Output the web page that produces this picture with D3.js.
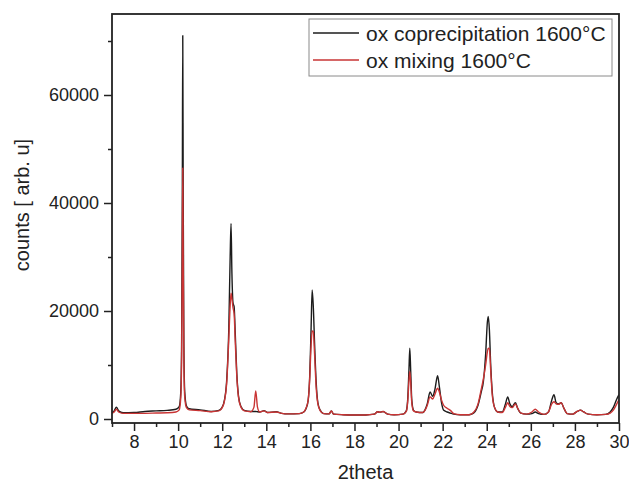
<!DOCTYPE html>
<html>
<head>
<meta charset="utf-8">
<script src="https://cdn.jsdelivr.net/npm/d3@7"></script>
<style>
  html, body { margin: 0; padding: 0; background: #fff; }
  svg { display: block; font-family: "Liberation Sans", Arial, sans-serif; }
</style>
</head>
<body>
<svg id="chart" width="629" height="483"></svg>
<script>
// 2theta sample positions (shared by both patterns)
const twoTheta = [7.0,7.1,7.2,7.3,7.5,8.0,8.5,9.0,9.5,9.9,10.05,10.12,10.16,10.19,10.21,10.23,10.26,10.3,10.38,10.5,
  11.0,11.5,11.85,12.0,12.1,12.2,12.3,12.36,12.4,12.44,12.49,12.54,12.59,12.66,12.74,12.85,13.0,13.3,13.44,13.52,13.6,13.7,
  13.9,14.05,14.45,14.7,15.0,15.5,15.7,15.8,15.9,15.97,16.03,16.08,16.13,16.19,16.26,16.34,16.45,16.6,16.85,16.95,17.05,
  17.5,18.0,18.5,18.9,19.05,19.15,19.3,19.5,19.8,20.2,20.35,20.42,20.47,20.51,20.55,20.6,20.68,20.8,21.1,21.2,21.3,21.43,
  21.55,21.65,21.77,21.85,21.95,22.05,22.2,22.35,22.5,22.8,23.2,23.4,23.6,23.75,23.85,23.95,24.03,24.07,24.12,24.18,24.25,
  24.35,24.5,24.7,24.85,24.95,25.05,25.15,25.3,25.4,25.55,25.8,26.05,26.2,26.35,26.6,26.8,26.95,27.05,27.15,27.25,27.38,
  27.5,27.65,27.9,28.1,28.25,28.4,28.6,29.0,29.4,29.6,29.75,29.9,30.0];

// ox coprecipitation 1600°C (black)
const coprecipitation = [1200,1500,2200,1500,1150,1200,1400,1500,1600,1800,2300,5000,15000,42000,71000,42000,14000,5000,2400,1900,
  1700,1400,1600,2200,3500,7000,17000,30000,36200,27000,21500,20800,16000,8500,4200,2300,1600,1400,1400,1400,1350,1300,
  1550,1200,1350,1050,950,1000,1300,1900,3500,8000,16500,23900,21000,14000,7000,3000,1600,1000,950,1500,900,
  800,750,750,900,1350,1250,1400,900,800,900,1500,4000,9000,13100,9000,3500,1600,1300,1200,1700,2800,5000,
  4200,5500,8000,6000,3000,1600,1300,1100,900,800,800,1100,2500,5000,7000,12000,18000,19000,16500,10000,5000,
  2200,1300,1300,2800,4100,2800,2300,3000,2000,1100,900,1000,1300,1000,850,1300,3500,4500,3000,2800,3000,
  2000,1000,900,1400,1650,1300,900,800,850,1300,2200,3700,4500];

// ox mixing 1600°C (red)
const mixing = [1100,1300,1800,1300,1050,1050,1050,1100,1150,1300,1700,4000,12000,30000,46500,30000,11000,4000,2100,1700,
  1550,1350,1500,2100,3300,6500,15000,21000,23300,22300,20600,19500,14500,8000,4000,2200,1500,1350,2200,5200,2200,1300,
  1500,1200,1300,1050,950,1000,1300,2000,3500,7500,13500,16300,16200,12000,6000,2800,1500,1000,950,1500,900,
  800,750,750,900,1350,1250,1400,900,800,900,1400,3500,7000,8800,6800,3000,1500,1300,1200,1600,2500,4100,
  3700,4600,5700,5000,3500,2500,2000,1600,1000,800,800,1200,2700,5500,7500,10000,12500,13100,13000,9000,4500,
  2200,1300,1200,2200,3000,2300,2100,2800,2000,1100,900,1300,1800,1300,850,1300,2800,3200,2800,2700,3000,
  2000,1000,900,1400,1650,1300,900,800,850,1100,1700,2800,3600];

const seriesNames = ["ox coprecipitation 1600°C", "ox mixing 1600°C"];
const seriesColors = ["#1c1c1c", "#c93434"];
const xMajorTicks = [8,10,12,14,16,18,20,22,24,26,28,30];
const xMinorTicks = [7,9,11,13,15,17,19,21,23,25,27,29];
const yMajorTicks = [0,20000,40000,60000];
const yMinorTicks = [10000,30000,50000,70000];
const xLabel = "2theta";
const yLabel = "counts [ arb. u]";

const W = 629, H = 483;
const margin = {left: 112, top: 14, right: 10, bottom: 60};
const svg = d3.select("#chart");

const x = d3.scaleLinear().domain([7, 30]).range([margin.left, W - margin.right]);
const y = d3.scaleLinear().domain([-740, 75000]).range([H - margin.bottom, margin.top]);

const data = [coprecipitation, mixing].map(vals => twoTheta.map((t, i) => [t, vals[i]]));

const clipId = "plotclip";
svg.append("defs").append("clipPath").attr("id", clipId)
  .append("rect")
  .attr("x", margin.left).attr("y", margin.top)
  .attr("width", W - margin.left - margin.right)
  .attr("height", H - margin.top - margin.bottom);

const line = d3.line().x(d => x(d[0])).y(d => y(d[1])).curve(d3.curveMonotoneX);

svg.append("g").attr("clip-path", `url(#${clipId})`)
  .selectAll("path").data(data).join("path")
  .attr("d", line)
  .attr("fill", "none")
  .attr("stroke", (d, i) => seriesColors[i])
  .attr("stroke-width", 1.4)
  .attr("stroke-linejoin", "round");

// axes
const axisColor = "#222";
svg.append("g").attr("transform", `translate(0,${H - margin.bottom})`)
  .call(d3.axisBottom(x).tickValues(xMajorTicks).tickSize(8).tickSizeOuter(0).tickPadding(4).tickFormat(d3.format("d")));
svg.append("g").attr("transform", `translate(0,${H - margin.bottom})`)
  .call(d3.axisBottom(x).tickValues(xMinorTicks).tickSize(4).tickSizeOuter(0).tickFormat(""));
svg.append("g").attr("transform", `translate(${margin.left},0)`)
  .call(d3.axisLeft(y).tickValues(yMajorTicks).tickSize(8).tickSizeOuter(0).tickPadding(5).tickFormat(d3.format("d")));
svg.append("g").attr("transform", `translate(${margin.left},0)`)
  .call(d3.axisLeft(y).tickValues(yMinorTicks).tickSize(4).tickSizeOuter(0).tickFormat(""));

svg.selectAll(".domain").remove();
svg.selectAll(".tick line").attr("stroke", axisColor).attr("stroke-width", 1.5);
svg.selectAll(".tick text").attr("fill", axisColor).style("font-size", "18px")
  .style("font-family", "'Liberation Sans', Arial, sans-serif");

// frame
svg.append("rect")
  .attr("x", margin.left).attr("y", margin.top)
  .attr("width", W - margin.left - margin.right)
  .attr("height", H - margin.top - margin.bottom)
  .attr("fill", "none").attr("stroke", axisColor).attr("stroke-width", 1.8);

// axis titles
svg.append("text")
  .attr("x", (margin.left + W - margin.right) / 2).attr("y", 479)
  .attr("text-anchor", "middle").style("font-size", "20px").attr("fill", axisColor)
  .text(xLabel);
svg.append("text")
  .attr("transform", `translate(29,205) rotate(-90)`)
  .attr("text-anchor", "middle").style("font-size", "20px").attr("fill", axisColor)
  .text(yLabel);

// legend
const lg = svg.append("g");
lg.append("rect").attr("x", 309).attr("y", 19).attr("width", 303).attr("height", 57)
  .attr("fill", "#fff").attr("stroke", "#8a8a8a").attr("stroke-width", 1);
seriesNames.forEach((name, i) => {
  const yy = 33 + i * 27;
  lg.append("line").attr("x1", 313).attr("x2", 359).attr("y1", yy).attr("y2", yy)
    .attr("stroke", seriesColors[i]).attr("stroke-width", 1.3);
  lg.append("text").attr("x", 366).attr("y", yy + 8)
    .style("font-size", "21px").attr("fill", axisColor).text(name);
});
</script>
</body>
</html>
